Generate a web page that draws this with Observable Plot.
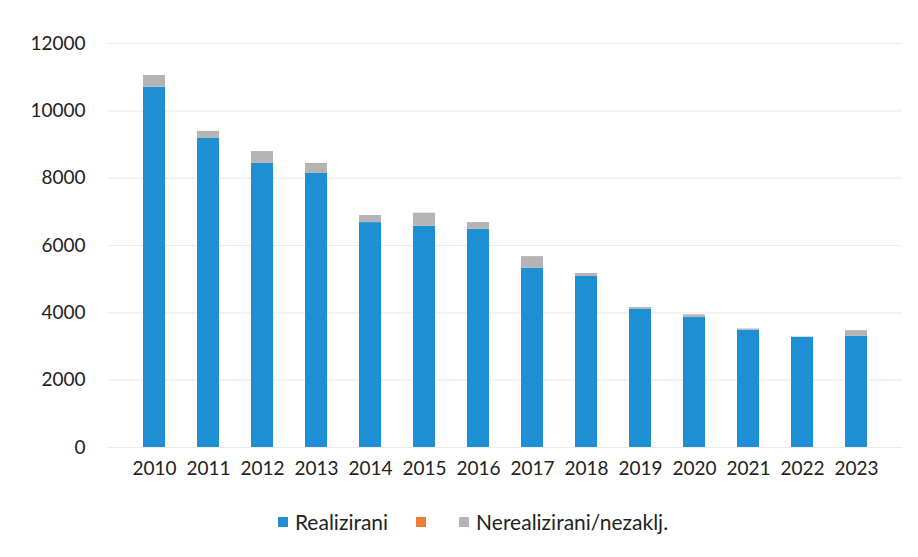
<!DOCTYPE html>
<html><head><meta charset="utf-8">
<script src="https://cdn.jsdelivr.net/npm/d3@7"></script>
<script src="https://cdn.jsdelivr.net/npm/@observablehq/plot@0.6"></script>
<style>
body{margin:0;background:#fff;font-family:Lato,"Open Sans",sans-serif;}
#legend{display:flex;justify-content:center;font-size:21px;color:#222;margin-top:9px;padding-left:56px}
#legend span.item{display:inline-flex;align-items:center;margin-right:28px}
#legend i{display:inline-block;width:10px;height:10px;margin-right:7px}
</style></head>
<body>
<div id="chart"></div>
<div id="legend"></div>
<script>
const years = ["2010","2011","2012","2013","2014","2015","2016","2017","2018","2019","2020","2021","2022","2023"];
const realizirani = [10700,9180,8440,8140,6680,6570,6480,5330,5080,4100,3860,3480,3270,3300];
const orangeSeries = [0,0,0,0,0,0,0,0,0,0,0,0,0,0];
const nerealizirani = [350,210,350,300,210,390,200,340,90,60,80,40,10,170];
const seriesNames = ["Realizirani","","Nerealizirani/nezaklj."];
const colors = ["#1f8fd4","#ed7d31","#b4b4b4"];
const yTicks = [0,2000,4000,6000,8000,10000,12000];

const rows = [];
years.forEach((y,i)=>{
  rows.push({year:y, s:"s0", v:realizirani[i]});
  rows.push({year:y, s:"s1", v:orangeSeries[i]});
  rows.push({year:y, s:"s2", v:nerealizirani[i]});
});

const plot = Plot.plot({
  width:918, height:500,
  marginTop:43, marginBottom:53, marginLeft:107, marginRight:16,
  style:{fontFamily:"Lato,'Open Sans',sans-serif", fontSize:"19px", color:"#222", background:"#fff"},
  x:{domain:years, padding:0.6, label:null, tickSize:0, tickPadding:14},
  y:{domain:[0,12000], ticks:yTicks, label:null, tickSize:0, tickPadding:22, tickFormat:d=>String(d)},
  color:{domain:["s0","s1","s2"], range:colors},
  marks:[
    Plot.ruleY(yTicks.slice(1), {stroke:"#ececec", strokeWidth:1.2}),
    Plot.barY(rows, Plot.stackY({x:"year", y:"v", fill:"s", order:["s0","s1","s2"]})),
    Plot.ruleY([0], {stroke:"#ececec"})
  ]
});
document.getElementById("chart").appendChild(plot);

const lg = document.getElementById("legend");
seriesNames.forEach((n,i)=>{
  const s = document.createElement("span"); s.className="item";
  if (!n) s.style.marginRight = "26px";
  const sw = document.createElement("i"); sw.style.background = colors[i];
  s.appendChild(sw); s.appendChild(document.createTextNode(n));
  lg.appendChild(s);
});
</script>
</body></html>
